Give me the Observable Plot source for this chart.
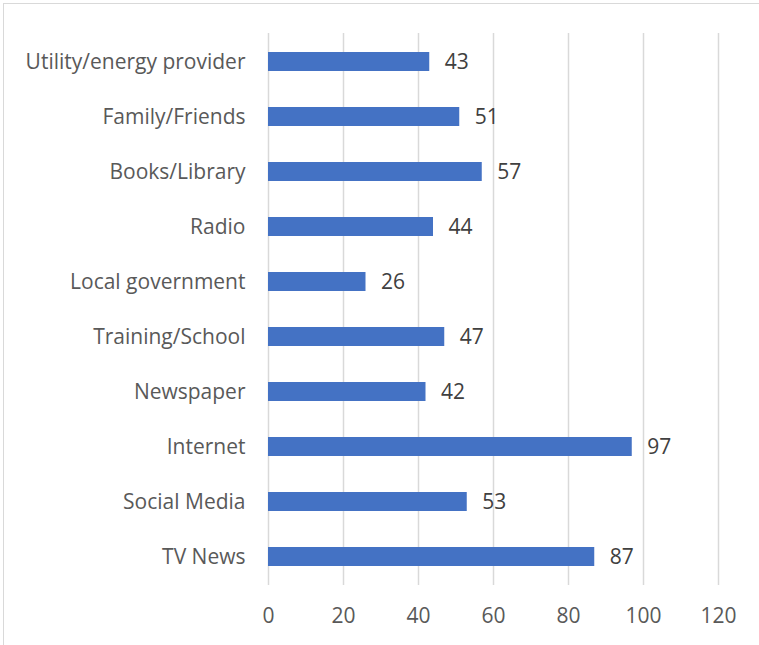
<!DOCTYPE html>
<html>
<head>
<meta charset="utf-8">
<script src="https://cdn.jsdelivr.net/npm/d3@7"></script>
<script src="https://cdn.jsdelivr.net/npm/@observablehq/plot@0.6"></script>
<style>
  html, body { margin: 0; padding: 0; background: #fff; overflow: hidden; }
  #wrap { position: relative; width: 759px; height: 645px; }
  #frame { position: absolute; left: 3px; top: 3px; width: 900px; height: 800px; border: 1.5px solid #d9d9d9; box-sizing: border-box; }
  #chart { position: absolute; left: 0; top: 0; }
</style>
</head>
<body>
<div id="wrap">
  <div id="frame"></div>
  <div id="chart"></div>
</div>
<script>
const categories = ["Utility/energy provider", "Family/Friends", "Books/Library", "Radio", "Local government", "Training/School", "Newspaper", "Internet", "Social Media", "TV News"];
const values = [43, 51, 57, 44, 26, 47, 42, 97, 53, 87];
const xTicks = [0, 20, 40, 60, 80, 100, 120];

const data = categories.map((c, i) => ({category: c, value: values[i]}));
const font = "'Open Sans', sans-serif";

const chart = Plot.plot({
  width: 759,
  height: 645,
  marginLeft: 268,
  marginRight: 41,
  marginTop: 33,
  marginBottom: 60,
  style: {fontFamily: font, fontSize: "21px", color: "#595959", background: "transparent", overflow: "visible"},
  x: {domain: [0, 120], ticks: xTicks},
  y: {domain: categories, paddingInner: 0.65, paddingOuter: 0.325},
  marks: [
    Plot.gridX(xTicks, {stroke: "#d9d9d9", strokeOpacity: 1, strokeWidth: 1.5}),
    Plot.barX(data, {x: "value", y: "category", fill: "#4472C4"}),
    Plot.text(data, {x: "value", y: "category", text: d => String(d.value), textAnchor: "start", dx: 15, fill: "#404040", fontSize: 21}),
    Plot.axisY({tickSize: 0, tickPadding: 23, label: null, fontSize: 21, fill: "#595959"}),
    Plot.axisX(xTicks, {tickSize: 0, tickPadding: 23, label: null, fontSize: 21, fill: "#595959"})
  ]
});
document.getElementById("chart").appendChild(chart);
</script>
</body>
</html>
